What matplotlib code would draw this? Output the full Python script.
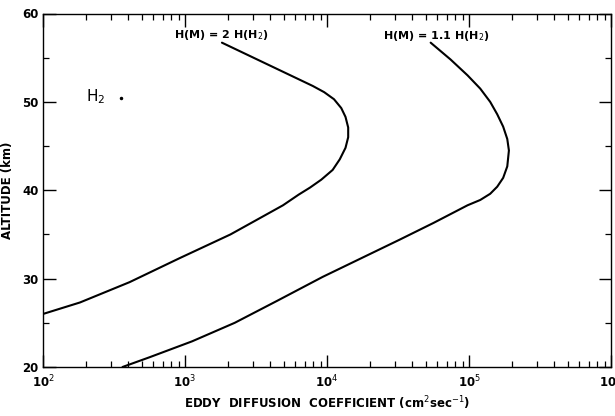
import matplotlib
matplotlib.use("Agg")
import matplotlib.pyplot as plt
from matplotlib.ticker import LogLocator, NullFormatter, FixedLocator

# Curve H(M) = 2 H(H2): eddy diffusion coefficient (cm^2 s^-1) vs altitude (km)
k_2h = [100, 182, 407, 912, 2090, 3160, 4900, 6310, 7590, 9120, 10960,
        12300, 13500, 14100, 14100, 13500, 12600, 11200, 9550, 7940, 1820]
alt_2h = [26.0, 27.3, 29.6, 32.3, 35.0, 36.6, 38.3, 39.5, 40.3, 41.2, 42.3,
          43.5, 44.8, 46.0, 47.1, 48.3, 49.3, 50.3, 51.1, 51.8, 56.7]

# Curve H(M) = 1.1 H(H2)
k_11h = [363, 562, 1120, 2240, 4470, 9330, 32400, 56200, 97700, 120000,
         141000, 158000, 174000, 186000, 191000, 186000, 174000, 158000,
         141000, 120000, 97700, 74100, 53700]
alt_11h = [20.0, 21.1, 22.9, 25.0, 27.5, 30.2, 34.4, 36.3, 38.3, 38.9,
           39.6, 40.4, 41.4, 42.7, 44.5, 45.8, 47.2, 48.6, 50.0, 51.5,
           53.0, 54.8, 56.7]

label_2h = "H(M) = 2 H(H$_2$)"
label_11h = "H(M) = 1.1 H(H$_2$)"
species = "H$_2$"

x_ticks = [1e2, 1e3, 1e4, 1e5, 1e6]
x_tick_labels = ["10$^2$", "10$^3$", "10$^4$", "10$^5$", "10$^6$"]
y_ticks = [20, 30, 40, 50, 60]
y_minor = [25, 35, 45, 55]

plt.rcParams['font.family'] = ['DejaVu Sans']
fig = plt.figure(figsize=(6.15, 4.16), dpi=100)
ax = fig.add_axes([43/615, 1 - 367/416, (611 - 43)/615, (367 - 13.5)/416])

ax.plot(k_2h, alt_2h, color='black', lw=1.5, solid_capstyle='round',
        solid_joinstyle='round')
ax.plot(k_11h, alt_11h, color='black', lw=1.5, solid_capstyle='round',
        solid_joinstyle='round')

ax.set_xscale('log')
ax.set_xlim(1e2, 1e6)
ax.set_ylim(20, 60)

ax.set_xticks(x_ticks)
ax.set_xticklabels(x_tick_labels)
ax.xaxis.set_minor_locator(LogLocator(base=10, subs=range(2, 10)))
ax.xaxis.set_minor_formatter(NullFormatter())
ax.set_yticks(y_ticks)
ax.yaxis.set_minor_locator(FixedLocator(y_minor))

ax.tick_params(axis='both', which='major', direction='in', length=9, width=1.0,
               top=True, right=True, labelsize=8.5)
ax.tick_params(axis='x', which='major', pad=5)
ax.tick_params(axis='y', which='major', pad=3)
ax.tick_params(axis='both', which='minor', direction='in', length=4, width=0.9,
               top=True, right=True)
for lab in ax.get_xticklabels() + ax.get_yticklabels():
    lab.set_fontweight('bold')

for sp in ax.spines.values():
    sp.set_linewidth(1.0)

ax.set_xlabel("EDDY  DIFFUSION  COEFFICIENT (cm$^2$sec$^{-1}$)",
              fontsize=8.5, fontweight='bold', labelpad=3)
ax.set_ylabel("ALTITUDE (km)", fontsize=8.5, fontweight='bold', labelpad=6)

ax.text(1.8e3, 57.6, label_2h, fontsize=8, fontweight='bold',
        ha='center', va='center')
ax.text(5.9e4, 57.5, label_11h, fontsize=8, fontweight='bold',
        ha='center', va='center')
ax.text(2.0e2, 50.6, species, fontsize=11, ha='left', va='center')
ax.plot([3.55e2], [50.4], marker='o', ms=1.5, color='black')

fig.savefig("out.png", dpi=100)
